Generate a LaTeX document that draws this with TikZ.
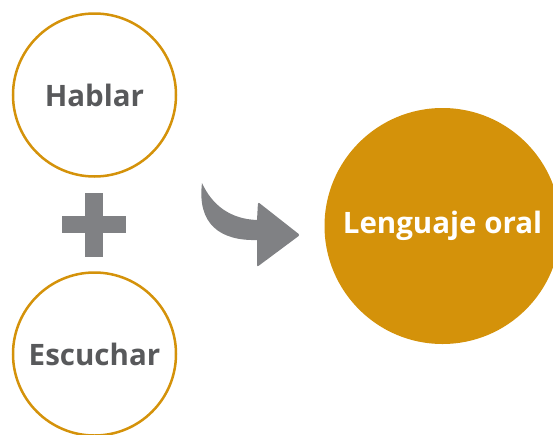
\documentclass[tikz,border=0pt]{standalone}
\usepackage{fontspec}
\setmainfont{Open Sans}
\definecolor{oro}{HTML}{D4920A}
\definecolor{gristexto}{HTML}{58595B}
\definecolor{grisforma}{HTML}{808184}
\tikzset{
  accion/.style={circle, draw=oro, line width=2.5pt, fill=white, minimum size=163pt,
    inner sep=0pt, text=gristexto, font=\bfseries\fontsize{29.5}{31}\selectfont},
  resultado/.style={circle, fill=oro, minimum size=236pt, inner sep=0pt,
    text=white, font=\bfseries\fontsize{29.5}{31}\selectfont}
}
\begin{document}
\begin{tikzpicture}[x=1pt, y=-1pt]
  \useasboundingbox (0,0) rectangle (553,434);

  \node[accion] (hablar) at (94.5,95) {Hablar};
  \node[accion] (escuchar) at (94.5,354) {Escuchar};
  \node[resultado] (oral) at (442.5,226) {Lenguaje oral};

  % signo mas
  \fill[grisforma] (62,216) rectangle (126,233);
  \fill[grisforma] (85,193) rectangle (103,257);

  % flecha curva
  \fill[grisforma] (202,183) .. controls (197,224) and (220,241) .. (257,240)
    [rounded corners=2pt] -- (257,267) -- (300,235) -- (258,202) [sharp corners] -- (257,220)
    .. controls (230,219) and (212,205) .. (202,183) -- cycle;

\end{tikzpicture}
\end{document}
